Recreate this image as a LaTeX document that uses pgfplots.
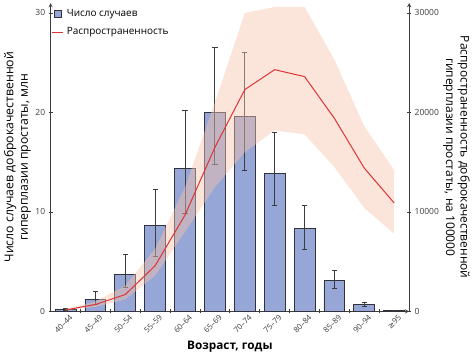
\documentclass[border=0pt]{standalone}
\usepackage{fontspec}
\setmainfont{Open Sans}
\newfontfamily\dejavu{DejaVu Sans}
\usepackage{pgfplots}
\pgfplotsset{compat=1.18}
\definecolor{barfill}{RGB}{150,166,214}
\definecolor{baredge}{RGB}{50,50,60}
\definecolor{bandc}{RGB}{246,196,170}
\definecolor{linec}{RGB}{222,50,55}
\definecolor{axc}{RGB}{60,60,60}
\begin{document}
\begin{tikzpicture}
\pgfplotsset{
  common/.style={
    width=358bp, height=308bp, scale only axis,
    xmin=-0.5, xmax=11.5,
    axis line style={-, axc, line width=0.9pt},
    tick style={axc, line width=0.8pt},
    tick align=outside,
    major tick length=4bp,
    /pgf/number format/assume math mode=true,
    tick label style={font=\fontsize{8.5}{10}\selectfont, text=axc},
  }
}
\begin{axis}[common,
  ymin=0, ymax=31,
  axis x line=bottom, axis y line=left,
  ytick={0,10,20,30},
  xtick={0,...,11},
  xticklabels={40--44,45--49,50--54,55--59,60--64,65--69,70--74,75--79,80--84,85--89,90--94,{{\dejavu ≥}95}},
  major x tick style={draw=none},
  minor xtick={0.5,1.5,...,10.5},
  minor tick length=4bp,
  xticklabel style={rotate=45, anchor=north east, inner sep=1pt, xshift=3bp, yshift=-2bp, font=\fontsize{7.8}{9}\selectfont},
  xlabel={\bfseries Возраст, годы},
  ylabel={\begin{tabular}{@{}c@{}}Число случаев доброкачественной\\гиперплазии простаты, млн\end{tabular}},
  ylabel style={yshift=-3.7bp, font=\fontsize{12.3}{14.5}\selectfont},
  xlabel style={yshift=-3bp, font=\fontsize{11.8}{13.5}\selectfont, inner ysep=3bp},
]
\addplot[ybar, bar width=0.7, fill=barfill, draw=baredge, line width=0.9pt,
  error bars/.cd, y dir=both, y explicit,
  error bar style={axc, line width=0.9pt},
  error mark options={rotate=90, mark size=2.6bp, line width=0.9pt, axc}]
 coordinates {
  (0,0.2) += (0,0.1) -= (0,0.08)
  (1,1.2) += (0,0.85) -= (0,0.53)
  (2,3.7) += (0,2.0) -= (0,1.3)
  (3,8.66) += (0,3.64) -= (0,3.1)
  (4,14.4) += (0,5.8) -= (0,4.6)
  (5,20.0) += (0,6.5) -= (0,5.2)
  (6,19.6) += (0,6.4) -= (0,5.4)
  (7,13.9) += (0,4.1) -= (0,3.2)
  (8,8.3) += (0,2.4) -= (0,2.1)
  (9,3.1) += (0,1.0) -= (0,0.75)
  (10,0.7) += (0,0.24) -= (0,0.2)
  (11,0.08) += (0,0.04) -= (0,0.03)
 };
\end{axis}
\begin{axis}[common,
  ymin=0, ymax=31000,
  axis y line=right, axis x line=none,
  xtick=\empty,
  ytick={0,10000,20000,30000},
  scaled y ticks=false,
  yticklabel style={/pgf/number format/1000 sep={}},
  ylabel={\begin{tabular}{@{}c@{}}Распространенность доброкачественной\\гиперплазии простаты, на 100000\end{tabular}},
  ylabel style={rotate=180, yshift=-4bp, font=\fontsize{12}{14.5}\selectfont},
  legend style={at={(rel axis cs:0,1)}, anchor=north west, xshift=0bp, yshift=-3bp, draw=none, fill=none,
    font=\fontsize{10}{12}\selectfont, row sep=6bp, inner sep=1pt,
    nodes={inner xsep=3bp}},
  legend cell align=left,
]
\addlegendimage{legend image code/.code={\draw[fill=barfill, draw=baredge, line width=0.9pt] (2bp,-3.5bp) rectangle (9bp,3.5bp);}}
\addlegendentry{Число случаев}
\addplot[fill=bandc, draw=none, fill opacity=0.45, forget plot] coordinates {
  (0,250) (1,1000) (2,2600) (3,6300) (4,12500) (5,21000) (6,30000) (7,30600) (8,30600) (9,25300) (10,18600) (11,14200)
  (11,7800) (10,10400) (9,14500) (8,17800) (7,18200) (6,16000) (5,12500) (4,8000) (3,3600) (2,1200) (1,450) (0,100)
} -- cycle;
\addplot[linec, line width=1pt, mark=none, legend image code/.code={\draw[linec, line width=1pt] (0bp,0bp) -- (11bp,0bp);}] coordinates {
  (0,150) (1,700) (2,1700) (3,4600) (4,9700) (5,16500) (6,22300) (7,24300) (8,23600) (9,19400) (10,14400) (11,10900)
};
\addlegendentry{Распространенность}
\end{axis}
\path (current axis.north) ++(0,3bp);
\end{tikzpicture}
\end{document}
